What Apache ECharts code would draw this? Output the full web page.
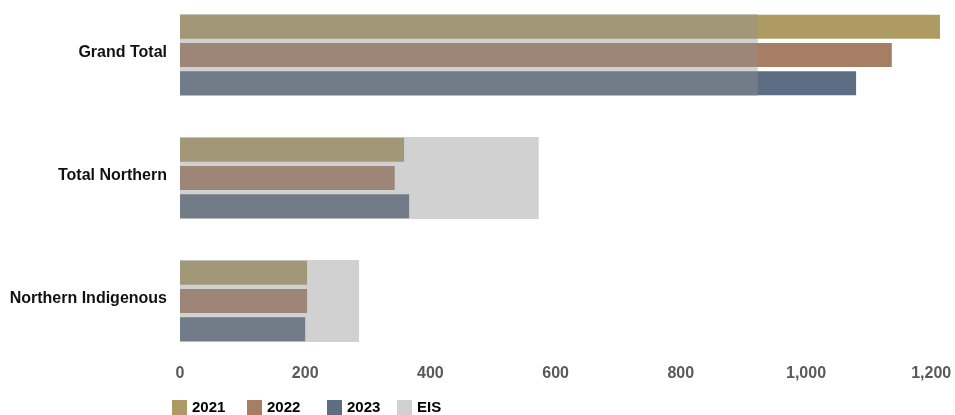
<!DOCTYPE html>
<html>
<head>
<meta charset="utf-8">
<script src="https://cdn.jsdelivr.net/npm/echarts@6/dist/echarts.min.js"></script>
<style>html,body{margin:0;padding:0;background:#fff}#c{width:955px;height:415px}</style>
</head>
<body>
<div id="c"></div>
<script>
const categories = ['Grand Total', 'Total Northern', 'Northern Indigenous'];
const seriesNames = ['2021', '2022', '2023', 'EIS'];
const v2021 = [1214, 358, 203];
const v2022 = [1137, 343, 203];
const v2023 = [1080, 366, 200];
const vEIS = [923, 573, 286];

const chart = echarts.init(document.getElementById('c'), null, {renderer: 'canvas'});
const font = 'Liberation Sans, Arial, sans-serif';
const legendX = [172, 247, 327, 397];
chart.setOption({
  animation: false,
  textStyle: {fontFamily: font},
  grid: {left: 180, right: 5, top: -6.5, bottom: 52.5, containLabel: false, outerBoundsMode: 'none'},
  legend: seriesNames.map((n, i) => ({
    left: legendX[i], top: 400, padding: 0, itemWidth: 15, itemHeight: 15,
    icon: 'rect',
    textStyle: {fontFamily: font, fontWeight: 'bold', fontSize: 15, color: '#000'},
    data: [n]
  })),
  xAxis: {
    type: 'value', min: 0, max: 1230, interval: 200,
    axisLine: {show: false}, axisTick: {show: false}, splitLine: {show: false},
    axisLabel: {
      show: true, showMaxLabel: false, margin: 3,
      fontFamily: font, fontWeight: 'bold', fontSize: 16, color: '#595959',
      formatter: v => v.toLocaleString('en-US')
    }
  },
  yAxis: [{
    type: 'category', data: categories, inverse: true,
    axisLine: {show: false}, axisTick: {show: false},
    axisLabel: {
      margin: 13,
      formatter: v => '{a|' + v + '}',
      rich: {a: {fontFamily: font, fontWeight: 'bold', fontSize: 16, color: '#111', padding: [0, 0, 4, 0]}}
    }
  }, {
    type: 'category', data: categories, inverse: true, show: false
  }],
  series: [
    {name: '2021', type: 'bar', data: v2021, barWidth: 24, barGap: '18%', itemStyle: {color: '#ae9b64'}},
    {name: '2022', type: 'bar', data: v2022, barWidth: 24, barGap: '18%', itemStyle: {color: '#a67e64'}},
    {name: '2023', type: 'bar', data: v2023, barWidth: 24, barGap: '18%', itemStyle: {color: '#5c6d84'}},
    {name: 'EIS', type: 'bar', yAxisIndex: 1, data: vEIS, barWidth: 82, z: 5, itemStyle: {color: 'rgba(145,145,145,0.42)'}}
  ]
});
</script>
</body>
</html>
